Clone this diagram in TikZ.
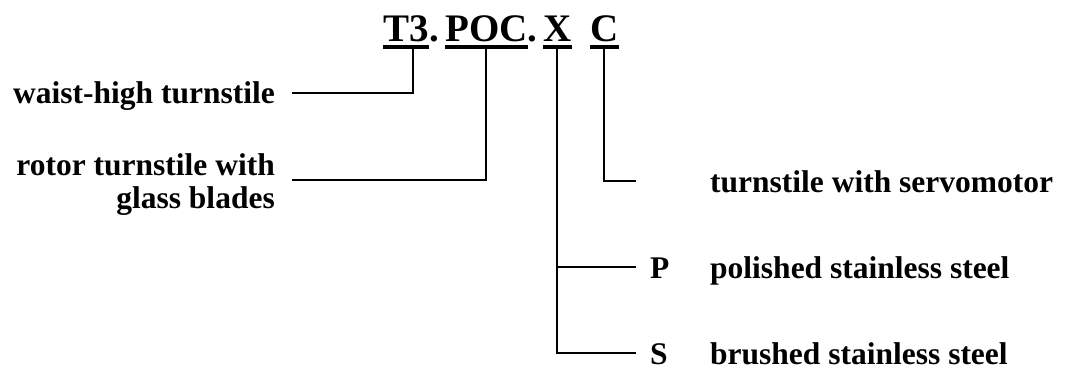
\documentclass[tikz,border=0pt]{standalone}
\usepackage{fontspec}
\setmainfont{Liberation Serif}
\usetikzlibrary{positioning,calc}

\begin{document}
\begin{tikzpicture}[x=1pt, y=-1pt,
  code/.style={font=\fontsize{39}{41}\selectfont\bfseries, inner sep=0pt, anchor=base west},
  lab/.style={font=\fontsize{31.5}{33}\selectfont\bfseries, inner sep=0pt},
  uline/.style={line width=3.5pt},
  conn/.style={line width=2pt},
]
\useasboundingbox (0,0) rectangle (1066,369);

% model code
\node[code] (t3) at (383,42) {T3};
\node[code] (dot1) at (t3.base east) {.};
\node[code] (poc) at (445,42) {POC};
\node[code] (dot2) at (poc.base east) {.};
\node[code] (x) at (543,42) {X};
\node[code] (c) at (590,42) {C};
\foreach \n in {t3,poc,x,c}
  \draw[uline] ([yshift=-5pt]\n.base west) -- ([yshift=-5pt]\n.base east);

% explanations
\node[lab, anchor=base east] (waist) at (275,103) {waist-high turnstile};
\node[lab, anchor=base east, align=right] (rotor) at (275,208) {rotor turnstile with\\glass blades};
\node[lab, anchor=base west] (servo) at (710,192) {turnstile with servomotor};
\node[lab, anchor=base west] (p) at (650,278) {P};
\node[lab, anchor=base west] (ptxt) at (710,278) {polished stainless steel};
\node[lab, anchor=base west] (s) at (650,364) {S};
\node[lab, anchor=base west] (stxt) at (710,364) {brushed stainless steel};

% leaders
\coordinate (t3a) at ([xshift=7pt,yshift=-6pt]t3.base);
\coordinate (poca) at ([yshift=-6pt]poc.base);
\coordinate (xa) at ([yshift=-6pt]x.base);
\coordinate (ca) at ([yshift=-6pt]c.base);
\draw[conn] (t3a) |- ($(waist.base east)+(17,-10)$);
\draw[conn] (poca) |- ($(rotor.base east)+(17,-28)$);
\draw[conn] (ca) |- ($(servo.base west)+(-74,-11)$);
\draw[conn] (xa) |- ($(p.base west)+(-14,-11)$);
\draw[conn] (xa) |- ($(s.base west)+(-14,-11)$);

\end{tikzpicture}
\end{document}
